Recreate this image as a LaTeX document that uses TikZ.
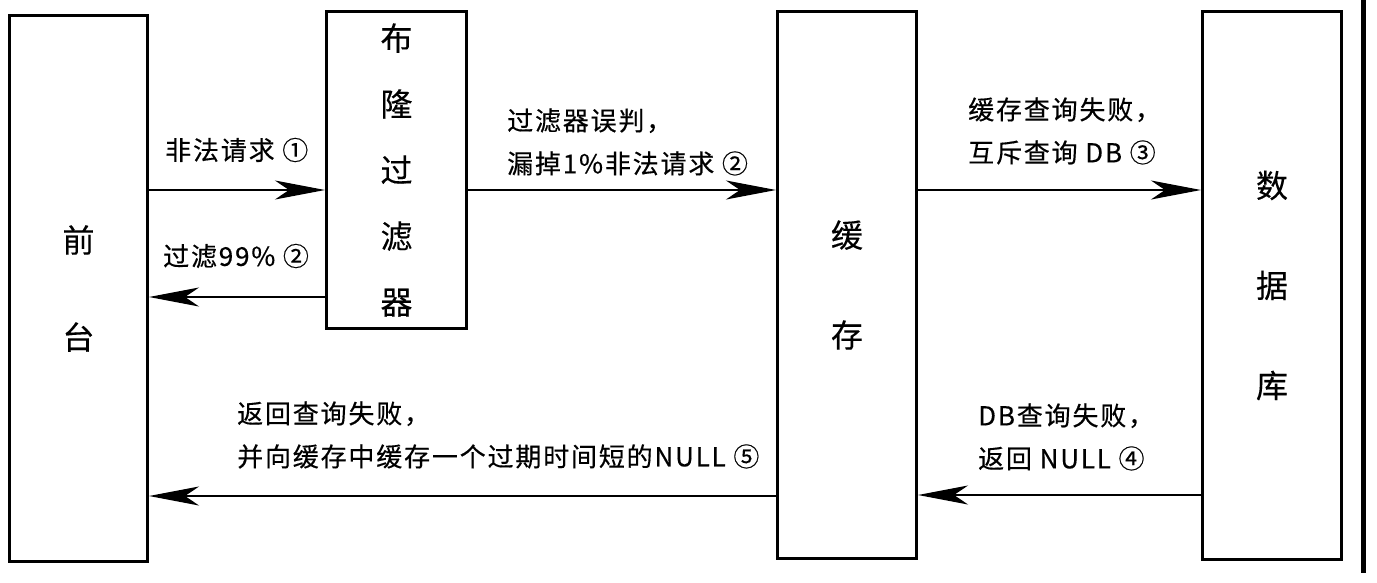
\documentclass[tikz,border=0pt]{standalone}
\usepackage{fontspec}
\setmainfont{Noto Sans CJK SC}
\newfontfamily\lblfont[LetterSpace=7, FakeBold=0.4]{Noto Sans CJK SC}
\newfontfamily\boxfontfam[FakeBold=0.3]{Noto Sans CJK SC}
\usetikzlibrary{arrows.meta}
\tikzset{
  box/.style={draw, line width=3pt, align=center, inner sep=0pt},
  lbl/.style={anchor=west, align=left, inner sep=0pt, font=\lblfont\fontsize{26}{43}\selectfont},
  arr/.style={line width=2.4pt, -{Stealth[length=50pt, width=19pt, inset=14pt]}},
}
\begin{document}
\begin{tikzpicture}[x=1pt,y=-1pt]
\fill[white] (0,0) rectangle (1377,582);
\useasboundingbox (0,0) rectangle (1377,582);

\node[box, minimum width=138pt, minimum height=546pt, font=\boxfontfam\fontsize{32}{97}\selectfont] (qt) at (78.5,288.5) {前\\台};
\node[box, minimum width=140pt, minimum height=317pt, font=\boxfontfam\fontsize{32}{66}\selectfont] (bf) at (396.5,170) {布\\隆\\过\\滤\\器};
\node[box, minimum width=139pt, minimum height=547pt, font=\boxfontfam\fontsize{32}{100}\selectfont] (hc) at (847,285) {缓\\存};
\node[box, minimum width=139pt, minimum height=548pt, font=\boxfontfam\fontsize{32}{100}\selectfont] (db) at (1272,285.5) {数\\据\\库};

\draw[line width=5pt] (1363,0) -- (1363,573);

\draw[arr] (qt.east |- 0,190) -- (bf.west |- 0,190);
\draw[arr] (bf.west |- 0,297) -- (qt.east |- 0,297);
\draw[arr] (bf.east |- 0,190) -- (hc.west |- 0,190);
\draw[arr] (hc.east |- 0,190) -- (db.west |- 0,190);
\draw[arr] (db.west |- 0,495) -- (hc.east |- 0,495);
\draw[arr] (hc.west |- 0,496) -- (qt.east |- 0,496);

\node[lbl] (l1) at (165,150) {非法请求 ①};
\node[lbl] (l2) at (163,256) {过滤99\% ②};
\node[lbl] (l3) at (507,142) {过滤器误判，\\漏掉1\%非法请求 ②};
\node[lbl] (l4) at (968,131) {缓存查询失败，\\互斥查询 DB ③};
\node[lbl] (l5) at (978,437) {DB查询失败，\\返回 NULL ④};
\node[lbl] (l6) at (237,435) {返回查询失败，\\并向缓存中缓存一个过期时间短的NULL ⑤};
\end{tikzpicture}
\end{document}
